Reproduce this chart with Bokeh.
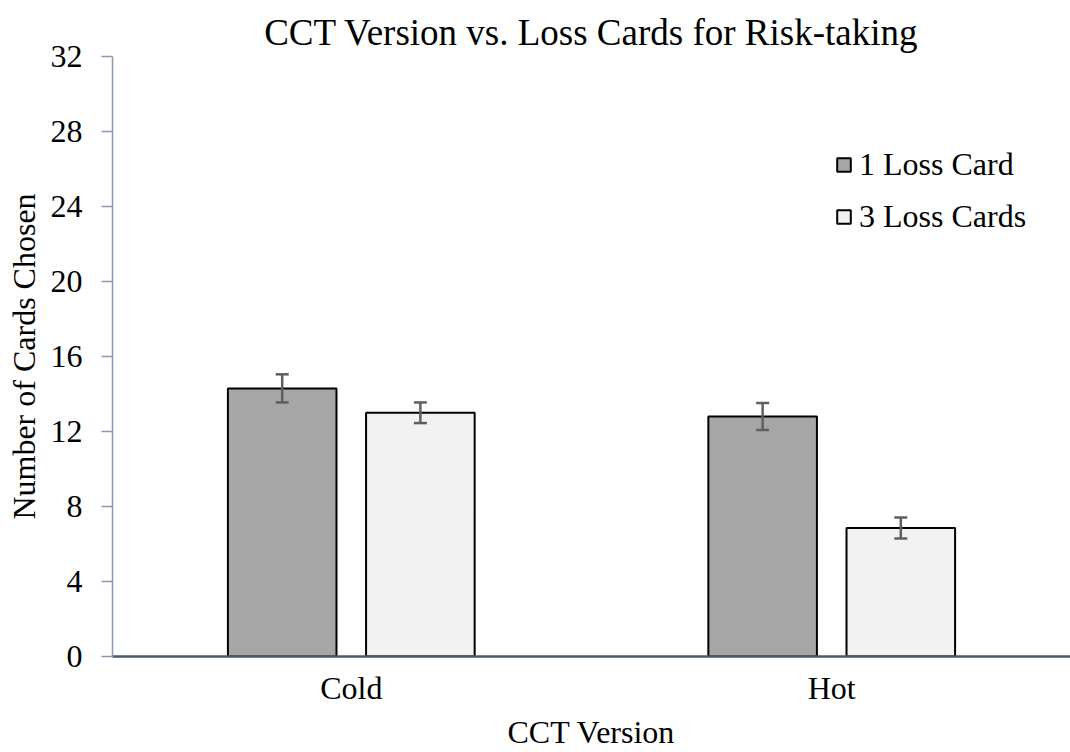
from bokeh.plotting import figure
from bokeh.models import (ColumnDataSource, FactorRange, Range1d, FixedTicker, Whisker,
                          TeeHead, Legend, LegendItem)
from bokeh.transform import dodge
from bokeh.embed import file_html
from bokeh.resources import INLINE

# ---- data ----
categories = ["Cold", "Hot"]
series_names = ["1 Loss Card", "3 Loss Cards"]
one_loss = [14.3, 12.8]
one_loss_err = [0.75, 0.72]
three_loss = [13.0, 6.85]
three_loss_err = [0.55, 0.56]
y_ticks = [0, 4, 8, 12, 16, 20, 24, 28, 32]

FONT = "Liberation Serif"

src = ColumnDataSource(dict(
    cat=categories,
    one=one_loss,
    one_up=[v + e for v, e in zip(one_loss, one_loss_err)],
    one_lo=[v - e for v, e in zip(one_loss, one_loss_err)],
    three=three_loss,
    three_up=[v + e for v, e in zip(three_loss, three_loss_err)],
    three_lo=[v - e for v, e in zip(three_loss, three_loss_err)],
))

p = figure(width=1070, height=752, output_backend="svg", toolbar_location=None,
           x_range=FactorRange(*categories, range_padding=-0.003, range_padding_units="absolute"),
           y_range=Range1d(0, 32),
           title="CCT Version vs. Loss Cards for Risk-taking",
           min_border_left=112, min_border_right=0, min_border_top=56, min_border_bottom=96)

p.outline_line_color = None
p.xgrid.grid_line_color = None
p.ygrid.grid_line_color = None
p.background_fill_color = "white"
p.border_fill_color = "white"

# title
p.title.text_font = FONT
p.title.text_font_style = "normal"
p.title.text_font_size = "37px"
p.title.text_color = "#000000"
p.title.align = "center"
p.title.standoff = 8
p.title.offset = 3

off = 0.1438
w = 0.226
r1 = p.vbar(x=dodge("cat", -off, range=p.x_range), top="one", width=w, source=src,
            fill_color="#a6a6a6", line_color="#000000", line_width=2)
r3 = p.vbar(x=dodge("cat", off, range=p.x_range), top="three", width=w, source=src,
            fill_color="#f2f2f2", line_color="#000000", line_width=2)

ec = "#5f5f5f"
for o, up, lo in [(-off, "one_up", "one_lo"), (off, "three_up", "three_lo")]:
    wk = Whisker(base=dodge("cat", o, range=p.x_range), upper=up, lower=lo, source=src,
                 line_color=ec, line_width=2.5, level="annotation",
                 upper_head=TeeHead(size=13, line_color=ec, line_width=2.5),
                 lower_head=TeeHead(size=13, line_color=ec, line_width=2.5))
    p.add_layout(wk)

# axes
p.yaxis.ticker = FixedTicker(ticks=y_ticks)
p.yaxis.axis_line_color = "#8a99b3"
p.yaxis.axis_line_width = 1.5
p.yaxis.major_tick_line_color = "#8a99b3"
p.yaxis.major_tick_line_width = 1.5
p.yaxis.major_tick_in = 0
p.yaxis.major_tick_out = 11
p.yaxis.minor_tick_line_color = None
p.yaxis.major_label_standoff = 19
p.yaxis.major_label_text_font = FONT
p.yaxis.major_label_text_font_size = "32px"
p.yaxis.major_label_text_color = "#000000"
p.yaxis.axis_label = "Number of Cards Chosen"
p.yaxis.axis_label_text_font = FONT
p.yaxis.axis_label_text_font_style = "normal"
p.yaxis.axis_label_text_font_size = "32px"
p.yaxis.axis_label_text_color = "#000000"
p.yaxis.axis_label_standoff = 6

p.xaxis.axis_line_color = "#4a5870"
p.xaxis.axis_line_width = 2.5
p.xaxis.major_tick_line_color = None
p.xaxis.minor_tick_line_color = None
p.xaxis.major_tick_out = 0
p.xaxis.major_label_standoff = 13
p.xaxis.major_label_text_font = FONT
p.xaxis.major_label_text_font_size = "32px"
p.xaxis.major_label_text_color = "#000000"
p.xaxis.axis_label = "CCT Version"
p.xaxis.axis_label_text_font = FONT
p.xaxis.axis_label_text_font_style = "normal"
p.xaxis.axis_label_text_font_size = "32px"
p.xaxis.axis_label_text_color = "#000000"
p.xaxis.axis_label_standoff = 5

legend = Legend(items=[LegendItem(label=series_names[0], renderers=[r1]),
                       LegendItem(label=series_names[1], renderers=[r3])],
                location=(723, 421), orientation="vertical",
                glyph_width=17, glyph_height=17, label_standoff=7,
                label_text_font=FONT, label_text_font_size="32px",
                label_text_color="#000000", label_height=20,
                spacing=15, padding=0, margin=0,
                border_line_color=None, background_fill_alpha=0)
p.add_layout(legend)

open("out.html", "w").write(file_html(p, INLINE))
